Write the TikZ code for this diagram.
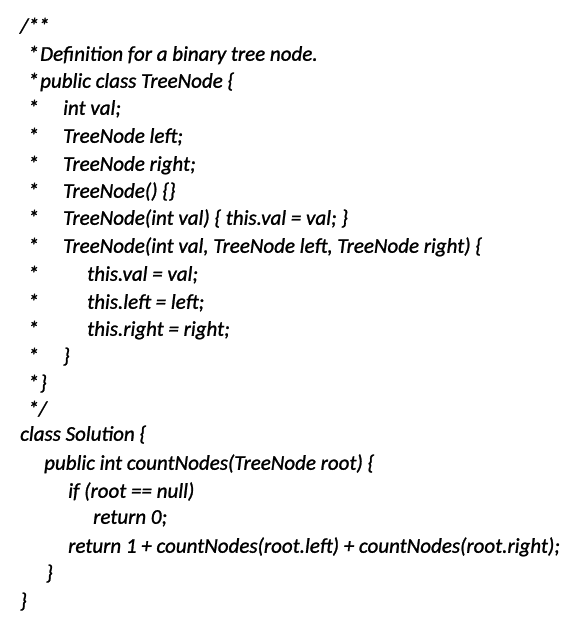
\documentclass[tikz,border=0pt]{standalone}
\usepackage{fontspec}
\setmainfont{Carlito}[ItalicFeatures={FakeBold=1.2}]
\newcommand{\starpad}[1]{\makebox[#1][l]{*}}
\begin{document}
\begin{tikzpicture}[x=1pt,y=1pt]
\tikzstyle{every node}=[font=\fontsize{21}{25}\selectfont\itshape, anchor=west, inner sep=0pt, text height=20pt, text depth=4.5pt]

% white page of the same size as the reference
\useasboundingbox [fill=white] (0,0) rectangle (578,-635);

% the comment block
\node (c1) at (20,-25) {/**};
\node (c2) at (28,-53) {\starpad{12pt}Definition for a binary tree node.};
\node (c3) at (28,-80) {\starpad{12pt}public class TreeNode \{};
\node (c4) at (28,-107) {\starpad{35pt}int val;};
\node (c5) at (28,-135) {\starpad{35pt}TreeNode left;};
\node (c6) at (28,-163) {\starpad{35pt}TreeNode right;};
\node (c7) at (28,-190) {\starpad{35pt}TreeNode() \{\}};
\node (c8) at (28,-217) {\starpad{35pt}TreeNode(int val) \{ this.val = val; \}};
\node (c9) at (28,-245) {\starpad{35pt}TreeNode(int val, TreeNode left, TreeNode right) \{};
\node (c10) at (28,-273) {\starpad{59pt}this.val = val;};
\node (c11) at (28,-301) {\starpad{59pt}this.left = left;};
\node (c12) at (28,-328) {\starpad{59pt}this.right = right;};
\node (c13) at (28,-355) {\starpad{35pt}\}};
\node (c14) at (28,-382) {\starpad{12pt}\}};
\node (c15) at (28,-408) {*/};

% the class
\node (s1) at (20,-433) {class Solution \{};
\node (s2) at (44,-462) {public int countNodes(TreeNode root) \{};
\node (s3) at (68,-490) {if (root == null)};
\node (s4) at (93,-516) {return 0;};
\node (s5) at (68,-545) {return 1 + countNodes(root.left) + countNodes(root.right);};
\node (s6) at (46,-572) {\}};
\node (s7) at (20,-600) {\}};

\end{tikzpicture}
\end{document}
